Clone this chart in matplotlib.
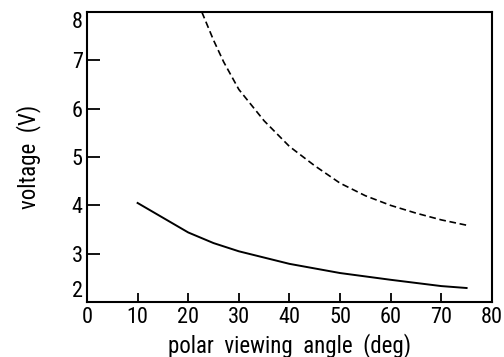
import matplotlib
matplotlib.use("Agg")
import matplotlib.pyplot as plt

plt.rcParams['font.family'] = ['Roboto Condensed', 'DejaVu Sans']

# solid curve
angle_solid = [10, 20, 25, 30, 40, 50, 60, 70, 75]
volt_solid = [4.05, 3.44, 3.22, 3.05, 2.79, 2.60, 2.46, 2.33, 2.29]

# dashed curve (runs off the top of the axes near 22.7 deg)
angle_dash = [22.7, 25, 27, 30, 35, 40, 45, 50, 55, 60, 65, 70, 75]
volt_dash = [8.0, 7.42, 6.97, 6.40, 5.75, 5.22, 4.82, 4.46, 4.20, 4.00, 3.84, 3.70, 3.59]

xticks = [0, 10, 20, 30, 40, 50, 60, 70, 80]
yticks = [2, 3, 4, 5, 6, 7, 8]

fig = plt.figure(figsize=(5.04, 3.57), dpi=100)
ax = fig.add_axes([0.1726, 0.154, 0.8034, 0.812])

ax.plot(angle_solid, volt_solid, color='black', lw=1.4)
ax.plot(angle_dash, volt_dash, color='black', lw=1.2, linestyle=(0, (4, 2.2)))

ax.set_xlim(0, 80)
ax.set_ylim(2, 8)
ax.set_xticks(xticks)
ax.set_yticks(yticks)

for s in ax.spines.values():
    s.set_linewidth(1.5)

ax.tick_params(axis='x', direction='in', length=6.5, width=1.3, labelsize=16, pad=3.5)
ax.tick_params(axis='y', direction='in', length=9, width=1.3, labelsize=16, pad=3)

ylabels = ax.get_yticklabels()
ylabels[0].set_va('bottom')
ylabels[-1].set_va('top')

ax.set_xlabel('polar  viewing  angle  (deg)', fontsize=16.5, labelpad=4)
ax.set_ylabel('voltage  (V)', fontsize=16.5, labelpad=22)

fig.savefig('out.png', dpi=100)
